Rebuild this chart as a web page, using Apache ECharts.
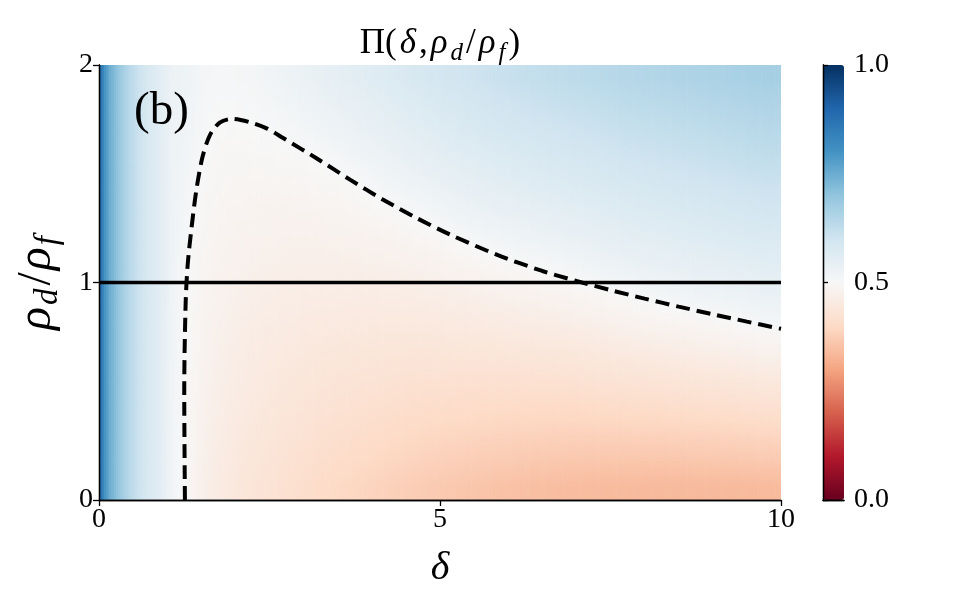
<!DOCTYPE html>
<html><head><meta charset="utf-8">
<script src="https://cdn.jsdelivr.net/npm/echarts@6/dist/echarts.min.js"></script>
<style>html,body{margin:0;padding:0;background:#fff}#c{width:972px;height:613px}</style>
</head><body><div id="c"></div>
<script>
// cell edges along delta (x) and rho_d/rho_f (y); values are read at cell centres
const deltaEdges = [0,0.05,0.1,0.15,0.2,0.3,0.4,0.5,0.65,0.8,1.0,1.15,1.3,1.45,1.6,1.8,2.0,2.5,3,3.5,4,4.5,5,5.5,6,6.5,7,7.5,8,8.5,9,9.5,10];
const rhoEdges = [0,0.125,0.25,0.375,0.5,0.625,0.75,0.875,1,1.125,1.25,1.375,1.5,1.625,1.75,1.875,2];
// Pi values, one row per rho band (bottom to top), one value per delta band
const piR00 = [0.88,0.81,0.77,0.74,0.71,0.67,0.64,0.61,0.58,0.555,0.515,0.502,0.488,0.472,0.46,0.45,0.435,0.42,0.405,0.393,0.382,0.372,0.363,0.356,0.35,0.345,0.342,0.34,0.338,0.338,0.338,0.34];
const piR01 = [0.88,0.81,0.77,0.74,0.71,0.67,0.64,0.61,0.58,0.555,0.515,0.502,0.489,0.474,0.463,0.454,0.44,0.426,0.413,0.403,0.393,0.385,0.378,0.373,0.368,0.365,0.363,0.363,0.362,0.364,0.365,0.368];
const piR02 = [0.88,0.81,0.77,0.74,0.71,0.67,0.64,0.61,0.58,0.555,0.515,0.502,0.49,0.477,0.466,0.457,0.445,0.433,0.421,0.412,0.405,0.398,0.393,0.389,0.387,0.385,0.385,0.386,0.387,0.389,0.391,0.395];
const piR03 = [0.88,0.81,0.77,0.74,0.71,0.67,0.64,0.61,0.58,0.555,0.516,0.503,0.491,0.479,0.469,0.461,0.45,0.439,0.429,0.422,0.416,0.411,0.408,0.406,0.405,0.404,0.406,0.409,0.411,0.415,0.418,0.423];
const piR04 = [0.88,0.81,0.77,0.74,0.71,0.67,0.64,0.61,0.58,0.555,0.517,0.503,0.493,0.481,0.472,0.465,0.455,0.445,0.437,0.431,0.427,0.424,0.423,0.423,0.423,0.424,0.428,0.432,0.436,0.44,0.444,0.45];
const piR05 = [0.88,0.81,0.77,0.74,0.71,0.67,0.64,0.61,0.58,0.555,0.518,0.503,0.494,0.484,0.475,0.468,0.459,0.451,0.445,0.441,0.438,0.437,0.438,0.44,0.442,0.444,0.449,0.455,0.46,0.466,0.471,0.478];
const piR06 = [0.88,0.81,0.77,0.74,0.71,0.67,0.64,0.61,0.58,0.555,0.519,0.504,0.495,0.486,0.478,0.472,0.464,0.458,0.452,0.45,0.45,0.45,0.453,0.456,0.46,0.464,0.47,0.478,0.485,0.491,0.497,0.507];
const piR07 = [0.88,0.81,0.77,0.74,0.71,0.67,0.64,0.61,0.58,0.555,0.52,0.505,0.496,0.488,0.481,0.476,0.469,0.464,0.46,0.46,0.461,0.463,0.468,0.473,0.478,0.484,0.492,0.501,0.512,0.52,0.526,0.534];
const piR08 = [0.88,0.81,0.77,0.74,0.71,0.67,0.64,0.61,0.58,0.555,0.521,0.506,0.497,0.491,0.484,0.479,0.474,0.47,0.468,0.469,0.472,0.476,0.483,0.49,0.496,0.506,0.518,0.529,0.536,0.542,0.547,0.554];
const piR09 = [0.88,0.81,0.77,0.74,0.71,0.67,0.64,0.61,0.58,0.555,0.522,0.509,0.499,0.493,0.487,0.483,0.479,0.476,0.476,0.479,0.483,0.489,0.498,0.512,0.522,0.53,0.539,0.549,0.554,0.561,0.566,0.572];
const piR10 = [0.88,0.81,0.77,0.74,0.71,0.67,0.64,0.61,0.58,0.555,0.523,0.512,0.501,0.495,0.49,0.487,0.484,0.483,0.484,0.488,0.495,0.506,0.522,0.533,0.541,0.549,0.557,0.566,0.572,0.578,0.584,0.591];
const piR11 = [0.88,0.81,0.77,0.74,0.71,0.67,0.64,0.61,0.58,0.555,0.524,0.515,0.506,0.498,0.493,0.491,0.489,0.489,0.492,0.497,0.513,0.526,0.539,0.55,0.559,0.567,0.575,0.582,0.588,0.595,0.6,0.607];
const piR12 = [0.88,0.81,0.77,0.74,0.71,0.67,0.64,0.61,0.58,0.555,0.525,0.518,0.51,0.5,0.496,0.494,0.494,0.495,0.5,0.515,0.529,0.543,0.556,0.566,0.576,0.583,0.59,0.599,0.605,0.611,0.617,0.624];
const piR13 = [0.88,0.81,0.77,0.74,0.71,0.67,0.64,0.61,0.58,0.555,0.526,0.521,0.514,0.504,0.499,0.498,0.499,0.504,0.516,0.53,0.544,0.557,0.571,0.582,0.591,0.599,0.606,0.615,0.62,0.626,0.632,0.639];
const piR14 = [0.88,0.81,0.77,0.74,0.71,0.67,0.64,0.61,0.58,0.555,0.527,0.523,0.517,0.507,0.503,0.502,0.505,0.515,0.529,0.543,0.557,0.571,0.584,0.596,0.606,0.614,0.621,0.63,0.635,0.641,0.647,0.653];
const piR15 = [0.88,0.81,0.77,0.74,0.71,0.67,0.64,0.61,0.58,0.555,0.528,0.525,0.52,0.51,0.506,0.506,0.51,0.525,0.54,0.555,0.57,0.585,0.598,0.61,0.62,0.628,0.636,0.644,0.65,0.656,0.662,0.668];
const piRows = [piR00,piR01,piR02,piR03,piR04,piR05,piR06,piR07,piR08,piR09,piR10,piR11,piR12,piR13,piR14,piR15];

// Pi = 0.5 contour (dashed)
const contourDelta = [1.26,1.25,1.27,1.3,1.36,1.43,1.52,1.63,1.77,1.95,2.2,2.45,2.7,3.2,3.68,4.16,4.66,5.15,5.84,6.5,7.0,7.5,8.0,8.5,9.0,9.5,10];
const contourRho   = [0,0.5,0.9,1.08,1.26,1.43,1.58,1.68,1.735,1.752,1.738,1.71,1.664,1.569,1.473,1.382,1.296,1.22,1.127,1.053,1.007,0.965,0.926,0.889,0.854,0.82,0.787];
// reference line rho_d/rho_f = 1
const refDelta = [0,10];
const refRho = [1,1];

const xTicks = {min:0,max:10,interval:5};
const yTicks = {min:0,max:2,interval:1};
const cbTicks = {min:0,max:1,interval:0.5};
const rdbu = ['#67001f','#b2182b','#d6604d','#f4a582','#fddbc7','#f7f7f7','#d1e5f0','#92c5de','#4393c3','#2166ac','#053061'];

// colour lookup matching the visualMap's linear RdBu ramp
const rdbuRGB = rdbu.map(h => [parseInt(h.slice(1,3),16), parseInt(h.slice(3,5),16), parseInt(h.slice(5,7),16)]);
function cmap(v){
  v = Math.max(0, Math.min(1, v));
  const s = v * (rdbuRGB.length - 1);
  const i = Math.min(rdbuRGB.length - 2, Math.floor(s));
  const f = s - i, a = rdbuRGB[i], b = rdbuRGB[i+1];
  return 'rgb(' + Math.round(a[0]+(b[0]-a[0])*f) + ',' + Math.round(a[1]+(b[1]-a[1])*f) + ',' + Math.round(a[2]+(b[2]-a[2])*f) + ')';
}

// nodes at cell centres (plus the frame edges), shaded like a gouraud pcolormesh
const nx = piRows[0].length, ny = piRows.length;
const xNodes = [deltaEdges[0]];
for (let i = 0; i < nx; i++) xNodes.push((deltaEdges[i] + deltaEdges[i+1]) / 2);
xNodes.push(deltaEdges[nx]);
const yNodes = [rhoEdges[0]];
for (let j = 0; j < ny; j++) yNodes.push((rhoEdges[j] + rhoEdges[j+1]) / 2);
yNodes.push(rhoEdges[ny]);
function nodeVal(a, b){
  const i = Math.max(0, Math.min(nx-1, a-1));
  const j = Math.max(0, Math.min(ny-1, b-1));
  return piRows[j][i];
}
const quads = [];
for (let b = 0; b < yNodes.length - 1; b++) {
  for (let a = 0; a < xNodes.length - 1; a++) {
    if (xNodes[a+1] <= xNodes[a] || yNodes[b+1] <= yNodes[b]) continue;
    quads.push([xNodes[a], xNodes[a+1], yNodes[b], yNodes[b+1],
      nodeVal(a,b), nodeVal(a+1,b), nodeVal(a,b+1), nodeVal(a+1,b+1)]);
  }
}

const FF = 'Liberation Serif';
const blk = '#000';
const axLine = {show:true, lineStyle:{color:blk, width:1.3}};
const richTitle = {
  n:{fontFamily:FF, fontSize:35, fontWeight:'normal', fill:blk, lineHeight:44, verticalAlign:'middle', padding:[0,1,0,1]},
  i:{fontFamily:FF, fontSize:35, fontStyle:'italic', fontWeight:'normal', fill:blk, lineHeight:44, verticalAlign:'middle', padding:[0,2,0,2]},
  s:{fontFamily:FF, fontSize:25, fontStyle:'italic', fontWeight:'normal', fill:blk, lineHeight:44, verticalAlign:'bottom', padding:[0,2,0,1]}
};
const richY = {
  n:{fontFamily:FF, fontSize:48, color:blk, lineHeight:56, verticalAlign:'middle', padding:[0,1,0,1]},
  i:{fontFamily:FF, fontSize:48, fontStyle:'italic', color:blk, lineHeight:56, verticalAlign:'middle', padding:[0,1,0,1]},
  s:{fontFamily:FF, fontSize:33, fontStyle:'italic', color:blk, lineHeight:56, verticalAlign:'bottom', padding:[0,2,0,1]}
};

const chart = echarts.init(document.getElementById('c'), null, {renderer:'canvas'});
chart.setOption({
  animation:false,
  backgroundColor:'#fff',
  grid:[
    {left:99, top:65, width:682, height:435},
    {left:823, top:65, width:21, height:435}
  ],
  xAxis:[
    Object.assign({type:'value', gridIndex:0, position:'bottom', z:10,
      axisLine:axLine, axisTick:{show:true, length:6, lineStyle:{color:blk,width:1.3}},
      axisLabel:{fontFamily:FF, fontSize:28, color:blk, margin:6},
      splitLine:{show:false},
      name:'δ', nameLocation:'middle', nameGap:48,
      nameTextStyle:{fontFamily:FF, fontSize:40, fontStyle:'italic', color:blk}}, xTicks),
    Object.assign({type:'value', gridIndex:0, position:'top', z:10, axisLine:axLine,
      axisTick:{show:false}, axisLabel:{show:false}, splitLine:{show:false}}, xTicks),
    {type:'value', gridIndex:1, position:'bottom', min:0, max:1, z:10, axisLine:axLine,
      axisTick:{show:false}, axisLabel:{show:false}, splitLine:{show:false}},
    {type:'value', gridIndex:1, position:'top', min:0, max:1, z:10, axisLine:axLine,
      axisTick:{show:false}, axisLabel:{show:false}, splitLine:{show:false}}
  ],
  yAxis:[
    Object.assign({type:'value', gridIndex:0, position:'left', z:10,
      axisLine:axLine, axisTick:{show:true, length:6, lineStyle:{color:blk,width:1.3}},
      axisLabel:{fontFamily:FF, fontSize:28, color:blk, margin:6},
      splitLine:{show:false},
      name:'{i|ρ}{s|d}{n|/}{i|ρ}{s|f}', nameLocation:'middle', nameGap:34, nameRotate:90,
      nameTextStyle:{rich:richY}}, yTicks),
    Object.assign({type:'value', gridIndex:0, position:'right', z:10, axisLine:axLine,
      axisTick:{show:false}, axisLabel:{show:false}, splitLine:{show:false}}, yTicks),
    Object.assign({type:'value', gridIndex:1, position:'right', z:10,
      axisLine:axLine, axisTick:{show:true, length:5, lineStyle:{color:blk,width:1.3}},
      axisLabel:{fontFamily:FF, fontSize:28, color:blk, margin:10, formatter:v=>v.toFixed(1)},
      splitLine:{show:false}}, cbTicks),
    Object.assign({type:'value', gridIndex:1, position:'left', z:10, axisLine:axLine,
      axisTick:{show:false}, axisLabel:{show:false}, splitLine:{show:false}}, cbTicks)
  ],
  visualMap:{
    type:'continuous', min:0, max:1, dimension:4, seriesIndex:0,
    left:823, top:65, itemWidth:21, itemHeight:435, padding:0,
    calculable:false, hoverLink:false, z:2,
    inRange:{color:rdbu}
  },
  graphic:[
    {type:'text', x:440, y:44, z:20, style:{
      text:'{n|Π(}{i|δ}{n|,}{i|ρ}{s|d}{n|/}{i|ρ}{s|f}{n|)}',
      rich:richTitle, align:'center', verticalAlign:'middle', fontFamily:FF, fontSize:35, fill:blk}},
    {type:'text', left:134, top:88, z:20, style:{text:'(b)', fontFamily:FF, fontSize:47, fill:blk}}
  ],
  series:[
    {
      type:'custom', xAxisIndex:0, yAxisIndex:0, clip:true, z:1,
      encode:{x:[0,1], y:[2,3]},
      data:quads,
      renderItem:function(params, api){
        const x0 = api.value(0), x1 = api.value(1), y0 = api.value(2), y1 = api.value(3);
        const v00 = api.value(4), v10 = api.value(5), v01 = api.value(6), v11 = api.value(7);
        const p0 = api.coord([x0, y1]);
        const p1 = api.coord([x1, y0]);
        const w = p1[0] - p0[0], h = p1[1] - p0[1];
        const n = Math.max(1, Math.ceil(w / 3));
        const children = [];
        for (let k = 0; k < n; k++) {
          const t = (k + 0.5) / n;
          const vb = v00 + (v10 - v00) * t;
          const vt = v01 + (v11 - v01) * t;
          children.push({type:'rect',
            shape:{x:p0[0] + w * k / n, y:p0[1], width:w / n + 0.6, height:h + 0.6},
            style:{fill:new echarts.graphic.LinearGradient(0,0,0,1,[
              {offset:0, color:cmap(vt)},
              {offset:0.5, color:cmap((vt + vb) / 2)},
              {offset:1, color:cmap(vb)}])}});
        }
        return {type:'group', children:children};
      }
    },
    {
      type:'line', xAxisIndex:0, yAxisIndex:0, z:5, clip:true,
      data:refDelta.map((d,k)=>[d, refRho[k]]),
      showSymbol:false, symbol:'none',
      lineStyle:{color:blk, width:3.5}
    },
    {
      type:'line', xAxisIndex:0, yAxisIndex:0, z:6, clip:true,
      data:contourDelta.map((d,k)=>[d, contourRho[k]]),
      showSymbol:false, symbol:'none', smooth:0.3,
      lineStyle:{color:blk, width:4, type:[14,7]}
    }
  ]
});
</script></body></html>
